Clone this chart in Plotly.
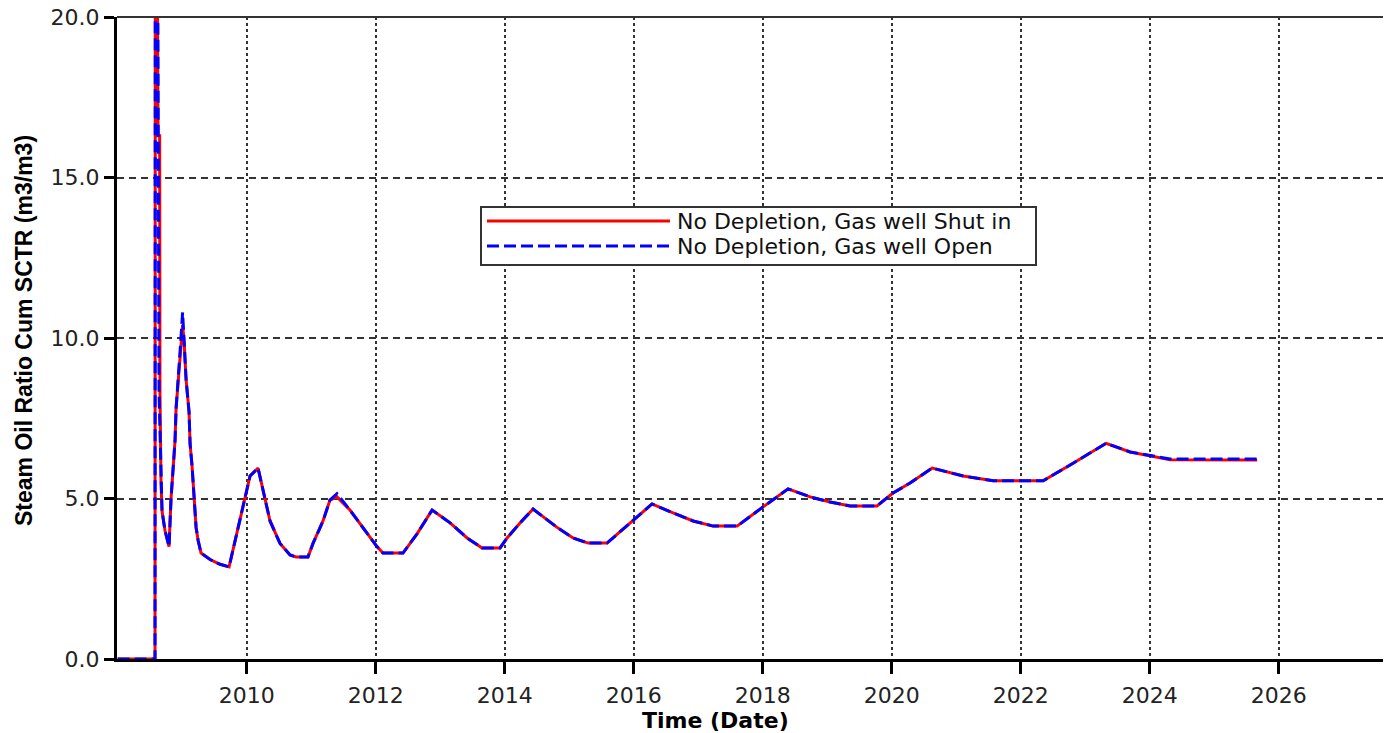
import plotly.graph_objects as go
from datetime import datetime

# ---- data (decimal years, m3/m3) ----
open_years = [2008.00, 2008.578, 2008.585, 2008.600, 2008.640, 2008.671, 2008.687, 2008.733, 2008.795,
              2008.826, 2008.857, 2008.888, 2008.904, 2008.935, 2008.966, 2009.005, 2009.028, 2009.059,
              2009.105, 2009.121, 2009.152, 2009.183, 2009.214, 2009.245, 2009.291, 2009.431, 2009.586,
              2009.726, 2009.819, 2009.912, 2010.005, 2010.051, 2010.175, 2010.361, 2010.516, 2010.671,
              2010.764, 2010.950, 2011.028, 2011.183, 2011.291, 2011.400, 2011.601, 2011.803, 2012.020,
              2012.113, 2012.423, 2012.640, 2012.873, 2013.152, 2013.416, 2013.648, 2013.927, 2014.036,
              2014.237, 2014.439, 2014.811, 2015.059, 2015.292, 2015.586, 2015.788, 2015.989, 2016.284,
              2016.610, 2016.920, 2017.230, 2017.602, 2018.005, 2018.393, 2018.734, 2019.044, 2019.354,
              2019.772, 2020.020, 2020.284, 2020.625, 2021.106, 2021.571, 2022.346, 2022.811, 2023.323,
              2023.695, 2024.036, 2024.315, 2025.664]
open_sor = [0.0, 0.0, 35.0, 35.0, 8.3, 5.5, 4.6, 4.0, 3.5,
            5.0, 5.9, 6.8, 7.8, 8.6, 9.6, 10.8, 9.9, 8.7,
            7.7, 6.7, 6.0, 5.0, 4.1, 3.7, 3.3, 3.1, 2.95,
            2.87, 3.7, 4.5, 5.3, 5.7, 5.95, 4.3, 3.6, 3.24,
            3.18, 3.18, 3.6, 4.3, 4.95, 5.15, 4.64, 4.1, 3.5,
            3.3, 3.3, 3.9, 4.64, 4.24, 3.77, 3.46, 3.46, 3.77,
            4.24, 4.67, 4.1, 3.77, 3.61, 3.61, 3.96, 4.33, 4.83,
            4.55, 4.3, 4.14, 4.14, 4.74, 5.3, 5.05, 4.89, 4.77,
            4.77, 5.17, 5.48, 5.95, 5.7, 5.55, 5.55, 6.1, 6.72,
            6.45, 6.32, 6.23, 6.23]

shut_years = [2008.00, 2008.578, 2008.585, 2008.600, 2008.625, 2008.650, 2008.655, 2008.671, 2008.687,
              2008.733, 2008.795, 2008.826, 2008.857, 2008.888, 2008.904, 2008.935, 2008.966, 2009.005,
              2009.028, 2009.059, 2009.105, 2009.121, 2009.152, 2009.183, 2009.214, 2009.245, 2009.291,
              2009.431, 2009.586, 2009.726, 2009.819, 2009.912, 2010.005, 2010.051, 2010.175, 2010.361,
              2010.516, 2010.671, 2010.764, 2010.950, 2011.028, 2011.183, 2011.291, 2011.400, 2011.601,
              2011.803, 2012.020, 2012.113, 2012.423, 2012.640, 2012.873, 2013.152, 2013.416, 2013.648,
              2013.927, 2014.036, 2014.237, 2014.439, 2014.811, 2015.059, 2015.292, 2015.586, 2015.788,
              2015.989, 2016.284, 2016.610, 2016.920, 2017.230, 2017.602, 2018.005, 2018.393, 2018.734,
              2019.044, 2019.354, 2019.772, 2020.020, 2020.284, 2020.625, 2021.106, 2021.571, 2022.346,
              2022.811, 2023.323, 2023.695, 2024.036, 2024.315, 2025.664]
shut_sor = [0.0, 0.0, 35.0, 35.0, 16.3, 16.3, 8.3, 5.5, 4.6,
            4.0, 3.5, 5.0, 5.9, 6.8, 7.8, 8.6, 9.6, 10.4,
            9.9, 8.7, 7.7, 6.7, 6.0, 5.0, 4.1, 3.7, 3.3,
            3.1, 2.95, 2.87, 3.7, 4.5, 5.3, 5.7, 5.95, 4.3,
            3.6, 3.24, 3.18, 3.18, 3.6, 4.3, 4.95, 5.05, 4.64,
            4.1, 3.5, 3.3, 3.3, 3.9, 4.64, 4.24, 3.77, 3.46,
            3.46, 3.77, 4.24, 4.67, 4.1, 3.77, 3.61, 3.61, 3.96,
            4.33, 4.83, 4.55, 4.3, 4.14, 4.14, 4.74, 5.3, 5.05,
            4.89, 4.77, 4.77, 5.17, 5.48, 5.95, 5.7, 5.55, 5.55,
            6.1, 6.72, 6.45, 6.32, 6.21, 6.2]

series_names = ["No Depletion, Gas well Shut in", "No Depletion, Gas well Open"]
series_colors = ["#ff0000", "#0000ff"]
series_dashes = ["solid", "12px,5px"]
y_ticks = [0, 5, 10, 15, 20]
x_tick_years = list(range(2010, 2027, 2))

# page geometry (browser body has an 8px margin)
PAGE_OFF = 8
PL, PR, PT, PB = 117, 1391, 17, 659   # plot area in page pixels
W, H = 1391, 733
PW, PH = PR - PL, PB - PT


def to_date(d):
    y = int(d)
    start = datetime(y, 1, 1)
    end = datetime(y + 1, 1, 1)
    return start + (end - start) * (d - y)


def px(x):
    return (x - PL) / PW


def py(y):
    return (PB - y) / PH


fig = go.Figure()
fig.add_trace(go.Scatter(
    x=[to_date(v) for v in shut_years], y=shut_sor, mode="lines",
    name=series_names[0], showlegend=False,
    line=dict(color=series_colors[0], width=3, dash=series_dashes[0])))
fig.add_trace(go.Scatter(
    x=[to_date(v) for v in open_years], y=open_sor, mode="lines",
    name=series_names[1], showlegend=False,
    line=dict(color=series_colors[1], width=3, dash=series_dashes[1])))

tick_font = dict(family="DejaVu Sans", size=22, color="#222")

# legend drawn as box + sample lines + labels
shapes = [
    dict(type="line", xref="paper", yref="paper", x0=0, x1=1, y0=1, y1=1,
         line=dict(color="#333", width=2)),
    dict(type="rect", xref="paper", yref="paper", x0=px(481), x1=px(1036), y0=py(265), y1=py(207),
         line=dict(color="#333", width=2), fillcolor="white", layer="above"),
]
annotations = []
row_y = [221, 246]
for i, name in enumerate(series_names):
    shapes.append(dict(type="line", xref="paper", yref="paper", x0=px(487), x1=px(670),
                       y0=py(row_y[i]), y1=py(row_y[i]), layer="above",
                       line=dict(color=series_colors[i], width=3, dash=series_dashes[i])))
    annotations.append(dict(text=name, xref="paper", yref="paper", x=px(675), y=py(row_y[i]),
                            xanchor="left", yanchor="middle", showarrow=False,
                            font=dict(family="DejaVu Sans", size=22, color="#111")))

annotations += [
    dict(text="<b>Time (Date)</b>", xref="paper", yref="paper",
         x=px(715), y=py(720), xanchor="center", yanchor="middle",
         showarrow=False, font=dict(family="DejaVu Sans", size=22, color="black")),
    dict(text="<b>Steam Oil Ratio Cum SCTR (m3/m3)</b>", xref="paper", yref="paper",
         x=px(24), y=py(331), xanchor="center", yanchor="middle",
         textangle=-90, showarrow=False,
         font=dict(family="Liberation Sans", size=23, color="black")),
]

fig.update_layout(
    width=W, height=H,
    margin=dict(l=PL - PAGE_OFF, r=W - PR + PAGE_OFF, t=PT - PAGE_OFF, b=H - PB + PAGE_OFF,
                autoexpand=False),
    paper_bgcolor="white", plot_bgcolor="white",
    showlegend=False,
    xaxis=dict(
        type="date", automargin=False,
        range=[to_date(2007.99), to_date(2027.74)],
        tickvals=[datetime(y, 1, 1) for y in x_tick_years],
        ticktext=[str(y) for y in x_tick_years],
        showgrid=True, gridcolor="#333", gridwidth=2, griddash="dot",
        showline=True, linecolor="black", linewidth=3,
        ticks="outside", ticklen=12, tickwidth=3, tickcolor="black",
        tickfont=tick_font, ticklabelstandoff=3, ticklabeloverflow="allow",
        zeroline=False,
    ),
    yaxis=dict(
        range=[0, 20], automargin=False,
        tickvals=y_ticks, tickformat=".1f",
        showgrid=True, gridcolor="#333", gridwidth=1.5, griddash="7px,5px",
        showline=True, linecolor="black", linewidth=3,
        ticks="outside", ticklen=10, tickwidth=3, tickcolor="black",
        tickfont=tick_font, ticklabelstandoff=0, ticklabeloverflow="allow",
        zeroline=False,
    ),
    shapes=shapes,
    annotations=annotations,
)

fig.write_html("out.html")
